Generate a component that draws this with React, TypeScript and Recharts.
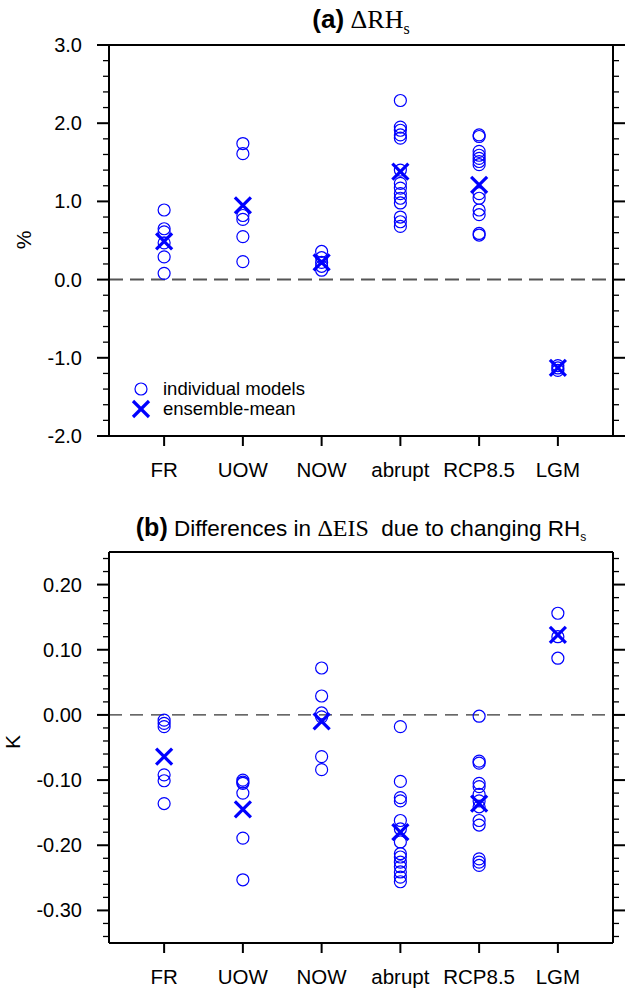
import { ScatterChart, Scatter, XAxis, YAxis, ReferenceLine } from "recharts"

const experiments = ["FR", "UOW", "NOW", "abrupt", "RCP8.5", "LGM"]

// (a) change in surface relative humidity, %
const frRH = [0.89, 0.65, 0.61, 0.47, 0.29, 0.08]
const uowRH = [1.74, 1.61, 0.82, 0.77, 0.55, 0.23]
const nowRH = [0.36, 0.28, 0.22, 0.17, 0.12]
const abruptRH = [2.29, 1.95, 1.91, 1.85, 1.81, 1.4, 1.23, 1.17, 1.1, 1.04, 0.98, 0.8, 0.74, 0.68]
const rcpRH = [1.85, 1.83, 1.64, 1.59, 1.55, 1.51, 1.47, 1.1, 1.04, 0.89, 0.83, 0.59, 0.57]
const lgmRH = [-1.1, -1.13, -1.16]
const meanRH = [0.49, 0.95, 0.22, 1.38, 1.21, -1.13]

// (b) differences in EIS change, K
const frEIS = [-0.008, -0.013, -0.018, -0.092, -0.101, -0.136]
const uowEIS = [-0.1, -0.103, -0.105, -0.12, -0.189, -0.253]
const nowEIS = [0.072, 0.029, 0.003, -0.003, -0.064, -0.084]
const abruptEIS = [-0.018, -0.102, -0.127, -0.132, -0.162, -0.175, -0.195, -0.213, -0.218, -0.226, -0.233, -0.241, -0.249, -0.256]
const rcpEIS = [-0.002, -0.071, -0.074, -0.105, -0.11, -0.122, -0.132, -0.141, -0.162, -0.169, -0.221, -0.226, -0.231]
const lgmEIS = [0.156, 0.12, 0.087]
const meanEIS = [-0.064, -0.145, -0.01, -0.18, -0.136, 0.123]

const rhMajor = [-2, -1, 0, 1, 2, 3]
const eisMajor = [-0.3, -0.2, -0.1, 0, 0.1, 0.2]

const BLUE = "#0000ff"
const SANS = "'Liberation Sans', Arial, Helvetica, sans-serif"
const SERIF = "'Liberation Serif', 'Times New Roman', serif"

const toPoints = (groups: number[][]) =>
  groups.flatMap((g, i) => g.map((v) => ({ x: i + 1, y: v })))
const toMeans = (vals: number[]) => vals.map((v, i) => ({ x: i + 1, y: v }))

function makeTicks(lo: number, hi: number, step: number) {
  const n = Math.round((hi - lo) / step)
  return Array.from({ length: n + 1 }, (_, i) => +(lo + i * step).toFixed(4))
}

const isMajor = (v: number, majors: number[]) => majors.some((m) => Math.abs(m - v) < 1e-6)

const OpenCircle = (p: any) => (
  <circle cx={p.cx} cy={p.cy} r={6} fill="none" stroke={BLUE} strokeWidth={1.2} />
)

const Cross = (p: any) => (
  <g stroke={BLUE} strokeWidth={3.2}>
    <line x1={p.cx - 8} y1={p.cy - 8} x2={p.cx + 8} y2={p.cy + 8} />
    <line x1={p.cx - 8} y1={p.cy + 8} x2={p.cx + 8} y2={p.cy - 8} />
  </g>
)

function Panel({ groups, means, domain, minor, majors, digits, height, top, xHeight, dash, dashColor, dashWidth }: any) {
  const leftTick = (p: any) => {
    const major = isMajor(p.payload.value, majors)
    return (
      <g>
        <line x1={p.x - (major ? 12 : 6)} x2={p.x} y1={p.y} y2={p.y} stroke="#000" strokeWidth={major ? 2 : 1.3} />
        {major && (
          <text x={p.x - 27} y={p.y} dy={7} textAnchor="end" fontSize={20} fontFamily={SANS} fill="#000">
            {p.payload.value.toFixed(digits)}
          </text>
        )}
      </g>
    )
  }
  const rightTick = (p: any) => {
    const major = isMajor(p.payload.value, majors)
    return (
      <line x1={p.x} x2={p.x + (major ? 12 : 6)} y1={p.y} y2={p.y} stroke="#000" strokeWidth={major ? 2 : 1.3} />
    )
  }
  const bottomTick = (p: any) => (
    <g>
      <line x1={p.x} x2={p.x} y1={p.y} y2={p.y + 10} stroke="#000" strokeWidth={2} />
      <text x={p.x} y={p.y + 41} textAnchor="middle" fontSize={20.5} fontFamily={SANS} fill="#000">
        {experiments[p.payload.value - 1]}
      </text>
    </g>
  )
  return (
    <ScatterChart width={626} height={height} margin={{ top, right: 0, bottom: 0, left: 0 }}>
      <XAxis
        type="number"
        dataKey="x"
        domain={[0.3, 6.7]}
        ticks={[1, 2, 3, 4, 5, 6]}
        interval={0}
        height={xHeight}
        tickSize={0}
        tickMargin={0}
        tick={bottomTick}
        tickLine={false}
        axisLine={{ stroke: "#000", strokeWidth: 2 }}
        allowDataOverflow
      />
      <YAxis
        type="number"
        dataKey="y"
        domain={domain}
        ticks={minor}
        interval={0}
        width={109}
        tickSize={0}
        tickMargin={0}
        tick={leftTick}
        tickLine={false}
        axisLine={{ stroke: "#000", strokeWidth: 2 }}
        allowDataOverflow
      />
      <YAxis
        yAxisId="r"
        orientation="right"
        type="number"
        domain={domain}
        ticks={minor}
        interval={0}
        width={13}
        tickSize={0}
        tickMargin={0}
        tick={rightTick}
        tickLine={false}
        axisLine={{ stroke: "#000", strokeWidth: 2 }}
        allowDataOverflow
      />
      <ReferenceLine y={domain[1]} stroke="#000" strokeWidth={2} />
      <ReferenceLine y={0} stroke={dashColor} strokeWidth={dashWidth} strokeDasharray={dash} />
      <Scatter data={toPoints(groups)} shape={OpenCircle} isAnimationActive={false} />
      <Scatter data={toMeans(means)} shape={Cross} isAnimationActive={false} />
    </ScatterChart>
  )
}

const abs = (left: number, top: number): any => ({ position: "absolute", left, top })

export default function App() {
  return (
    <div style={{ position: "absolute", left: 0, top: 0, width: 626, height: 989, background: "#fff", overflow: "hidden" }}>
      <div style={abs(0, 0)}>
        <Panel
          groups={[frRH, uowRH, nowRH, abruptRH, rcpRH, lgmRH]}
          means={meanRH}
          domain={[-2, 3]}
          minor={makeTicks(-2, 3, 0.2)}
          majors={rhMajor}
          digits={1}
          height={495}
          top={45}
          xHeight={59}
          dash="14 7"
          dashColor="#555"
          dashWidth={2}
        />
      </div>
      <div style={abs(0, 495)}>
        <Panel
          groups={[frEIS, uowEIS, nowEIS, abruptEIS, rcpEIS, lgmEIS]}
          means={meanEIS}
          domain={[-0.35, 0.25]}
          minor={makeTicks(-0.34, 0.24, 0.02)}
          majors={eisMajor}
          digits={2}
          height={494}
          top={57}
          xHeight={46}
          dash="13 8"
          dashColor="#000"
          dashWidth={1}
        />
      </div>

      {/* titles */}
      <div style={{ ...abs(109, 3), width: 504, textAlign: "center", lineHeight: "32px", whiteSpace: "nowrap" }}>
        <span style={{ fontFamily: SANS, fontWeight: "bold", fontSize: 26 }}>(a)</span>
        <span style={{ fontFamily: SERIF, fontSize: 26 }}> ΔRH</span>
        <span style={{ fontFamily: SERIF, fontSize: 16, position: "relative", top: 6 }}>s</span>
      </div>
      <div style={{ ...abs(109, 512), width: 504, textAlign: "center", lineHeight: "30px", whiteSpace: "pre" }}>
        <span style={{ fontFamily: SANS, fontWeight: "bold", fontSize: 25 }}>(b)</span>
        <span style={{ fontFamily: SANS, fontSize: 22.5 }}> Differences in </span>
        <span style={{ fontFamily: SERIF, fontSize: 24 }}>ΔEIS</span>
        <span style={{ fontFamily: SANS, fontSize: 22.5 }}>  due to changing RH</span>
        <span style={{ fontFamily: SANS, fontSize: 12, position: "relative", top: 5 }}>s</span>
      </div>

      {/* axis titles */}
      <div style={{ ...abs(24, 240), transform: "translate(-50%, -50%) rotate(-90deg)", fontFamily: SANS, fontSize: 21 }}>%</div>
      <div style={{ ...abs(13, 742), transform: "translate(-50%, -50%) rotate(-90deg)", fontFamily: SANS, fontSize: 21 }}>K</div>

      {/* legend */}
      <div style={{ ...abs(130, 379), fontFamily: SANS, fontSize: 18.5, lineHeight: "20px" }}>
        <div style={{ display: "flex", alignItems: "center" }}>
          <svg width={22} height={20}><circle cx={11} cy={10} r={6} fill="none" stroke={BLUE} strokeWidth={1.2} /></svg>
          <span style={{ marginLeft: 11 }}>individual models</span>
        </div>
        <div style={{ display: "flex", alignItems: "center" }}>
          <svg width={22} height={20}>
            <g stroke={BLUE} strokeWidth={3.2}>
              <line x1={3} y1={2} x2={19} y2={18} />
              <line x1={3} y1={18} x2={19} y2={2} />
            </g>
          </svg>
          <span style={{ marginLeft: 11 }}>ensemble-mean</span>
        </div>
      </div>
    </div>
  )
}
